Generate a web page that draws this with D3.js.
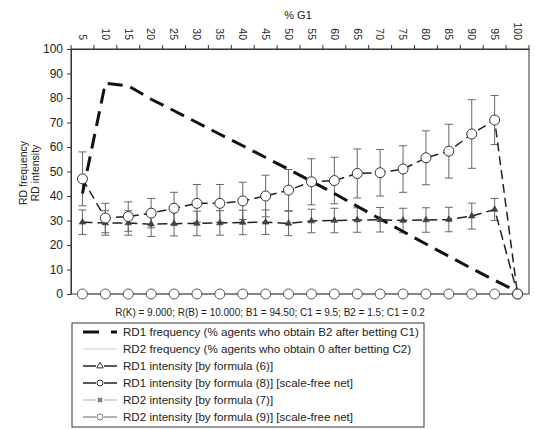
<!DOCTYPE html>
<html><head><meta charset="utf-8">
<script src="https://cdn.jsdelivr.net/npm/d3@7"></script>
<style>
body{margin:0;background:#fff;}
text{font-family:"Liberation Sans",Arial,sans-serif;fill:#222;}
</style></head>
<body><svg id="c" width="535" height="430"></svg>
<script>
const categories = [5,10,15,20,25,30,35,40,45,50,55,60,65,70,75,80,85,90,95,100];
const yTicks = [0,10,20,30,40,50,60,70,80,90,100];
const rd1Freq = [41,86,85,79.5,74.8,70,65.2,60.5,55.7,50.9,46,41,35.8,30.6,25.5,20.4,15.4,10.4,5.6,1];
const rd2Freq = [0,0,0,0,0,0,0,0,0,0,0,0,0,0,0,0,0,0,0,0];
const rd1IntF6 = [29.3,29,29,28.5,28.7,28.8,29,29.2,29.3,28.8,29.8,30,30.2,30.3,30,30.2,30.4,31.8,34.5,0];
const rd1IntF6Err = [5,5,5,5,5,5,5,5,5,5,4.8,5,5,5,5,5,5,5.3,4.5,0];
const rd1IntF8 = [47,31,31.6,33,35,37,37,38,40,42.4,45.8,46.3,49.2,49.5,51,55.6,58.3,65.3,71,0];
const rd1IntF8Err = [11,6,6,6,6.5,7.7,7.7,7.6,8.5,8.4,9.4,9.5,10,9.5,9.5,11,11,14,10,0];
const rd2IntF7 = [0,0,0,0,0,0,0,0,0,0,0,0,0,0,0,0,0,0,0,0];
const rd2IntF9 = [0,0,0,0,0,0,0,0,0,0,0,0,0,0,0,0,0,0,0,0];
const legendLabels = [
 "RD1 frequency (% agents who obtain B2 after betting C1)",
 "RD2 frequency (% agents who obtain 0 after betting C2)",
 "RD1 intensity [by formula (6)]",
 "RD1 intensity [by formula (8)] [scale-free net]",
 "RD2 intensity [by formula (7)]",
 "RD2 intensity [by formula (9)] [scale-free net]"
];
const xTitle = "% G1";
const yTitle = ["RD frequency","RD intensity"];
const note = "R(K) = 9.000; R(B) = 10.000; B1 = 94.50; C1 = 9.5; B2 = 1.5; C1 = 0.2";

const svg = d3.select("#c");
const L=71,R=529,T=49,B=294;
const x = d3.scaleBand().domain(categories).range([L,R]);
const bw = x.bandwidth();
const cx = c => x(c)+bw/2;
const y = d3.scaleLinear().domain([0,100]).range([B,T]);

// frame
svg.append("rect").attr("x",L).attr("y",T).attr("width",R-L).attr("height",B-T)
  .attr("fill","none").attr("stroke","#333").attr("stroke-width",1);

// top axis
const gx = svg.append("g").attr("transform",`translate(0,${T})`)
  .call(d3.axisTop(x).tickSize(0).tickSizeOuter(0));
gx.select(".domain").attr("stroke","#333");
gx.selectAll(".tick text").attr("transform","rotate(90)").attr("x",-9).attr("y",0)
  .attr("dy","0.35em").style("text-anchor","end").style("font-size","10.5px").attr("fill","#222");
// tick marks between categories
svg.append("g").selectAll("line").data(categories.concat(["end"])).join("line")
  .attr("x1",(d,i)=>L+i*bw).attr("x2",(d,i)=>L+i*bw).attr("y1",T).attr("y2",T-4)
  .attr("stroke","#333");
svg.append("text").attr("x",298).attr("y",19).attr("text-anchor","middle")
  .style("font-size","11px").text(xTitle);

// left axis
const gy = svg.append("g").attr("transform",`translate(${L},0)`)
  .call(d3.axisLeft(y).tickValues(yTicks).tickSize(4).tickPadding(4).tickSizeOuter(0));
gy.select(".domain").attr("stroke","#333");
gy.selectAll(".tick line").attr("stroke","#333");
gy.selectAll(".tick text").style("font-size","12px").attr("fill","#222");
yTitle.forEach((t,i)=>{
  svg.append("text").attr("transform",`translate(${27+i*11.5},173) rotate(-90)`)
    .attr("text-anchor","middle").style("font-size","10.5px").text(t);
});

const line = d3.line().x((d,i)=>cx(categories[i])).y(d=>y(d));

// RD2 series (all zero)
svg.append("path").attr("d",line(rd2Freq)).attr("fill","none").attr("stroke","#ccc").attr("stroke-width",1);
svg.append("path").attr("d",line(rd2IntF7)).attr("fill","none").attr("stroke","#aaa").attr("stroke-width",1);
svg.append("path").attr("d",line(rd2IntF9)).attr("fill","none").attr("stroke","#777").attr("stroke-width",1.5);

// error bars
function errBars(vals, errs){
  const g = svg.append("g").attr("stroke","#666").attr("stroke-width",1);
  vals.forEach((v,i)=>{
    if(!errs[i]) return;
    const xc = cx(categories[i]);
    g.append("line").attr("x1",xc).attr("x2",xc).attr("y1",y(v-errs[i])).attr("y2",y(v+errs[i]));
    [v-errs[i],v+errs[i]].forEach(e=>g.append("line").attr("x1",xc-4).attr("x2",xc+4).attr("y1",y(e)).attr("y2",y(e)));
  });
}
errBars(rd1IntF6, rd1IntF6Err);
errBars(rd1IntF8, rd1IntF8Err);

// RD1 intensity (6)
svg.append("path").attr("d",line(rd1IntF6)).attr("fill","none").attr("stroke","#222")
  .attr("stroke-width",1.5).attr("stroke-dasharray","10,5");
// RD1 intensity (8)
svg.append("path").attr("d",line(rd1IntF8)).attr("fill","none").attr("stroke","#222")
  .attr("stroke-width",1.5).attr("stroke-dasharray","9,5");
// RD1 frequency
svg.append("path").attr("d",line(rd1Freq)).attr("fill","none").attr("stroke","#111")
  .attr("stroke-width",3).attr("stroke-dasharray","15,8");

const tri = d3.symbol().type(d3.symbolTriangle).size(18);
// markers
svg.append("g").selectAll("circle").data(rd2IntF9).join("circle")
  .attr("cx",(d,i)=>cx(categories[i])).attr("cy",d=>y(d)).attr("r",5)
  .attr("fill","#fff").attr("stroke","#555").attr("stroke-width",1);
svg.append("g").selectAll("path").data(rd1IntF6).join("path")
  .attr("transform",(d,i)=>`translate(${cx(categories[i])},${y(d)})`).attr("d",tri)
  .attr("fill","#444").attr("stroke","#333").attr("stroke-width",0.6);
svg.append("g").selectAll("circle").data(rd1IntF8).join("circle")
  .attr("cx",(d,i)=>cx(categories[i])).attr("cy",d=>y(d)).attr("r",5)
  .attr("fill","#fff").attr("stroke","#333").attr("stroke-width",1);

// note
svg.append("text").attr("x",270).attr("y",316).attr("text-anchor","middle")
  .style("font-size","10px").text(note);

// legend
const lg = svg.append("g");
lg.append("rect").attr("x",72).attr("y",323).attr("width",352).attr("height",104)
  .attr("fill","#fff").attr("stroke","#333");
const ly = i => 332 + i*17;
legendLabels.forEach((t,i)=>{
  lg.append("text").attr("x",123).attr("y",ly(i)).attr("dy","0.35em").style("font-size","11.6px").text(t);
});
// samples
lg.append("line").attr("x1",83).attr("x2",117).attr("y1",ly(0)).attr("y2",ly(0))
  .attr("stroke","#111").attr("stroke-width",3).attr("stroke-dasharray","16,12");
lg.append("line").attr("x1",83).attr("x2",117).attr("y1",ly(1)).attr("y2",ly(1))
  .attr("stroke","#ccc").attr("stroke-width",1);
[[2,"#222",1.5],[3,"#222",1.5],[4,"#aaa",1],[5,"#999",1.5]].forEach(([i,c,w])=>{
  lg.append("line").attr("x1",83).attr("x2",96).attr("y1",ly(i)).attr("y2",ly(i)).attr("stroke",c).attr("stroke-width",w);
  lg.append("line").attr("x1",104).attr("x2",117).attr("y1",ly(i)).attr("y2",ly(i)).attr("stroke",c).attr("stroke-width",w);
});
lg.append("path").attr("transform",`translate(100,${ly(2)})`).attr("d",d3.symbol().type(d3.symbolTriangle).size(18))
  .attr("fill","#fff").attr("stroke","#333");
lg.append("circle").attr("cx",100).attr("cy",ly(3)).attr("r",3).attr("fill","#fff").attr("stroke","#333");
lg.append("path").attr("d",d3.symbol().type(d3.symbolCross).size(18))
  .attr("transform",`translate(100,${ly(4)}) rotate(45)`).attr("fill","#777");
lg.append("circle").attr("cx",100).attr("cy",ly(5)).attr("r",3).attr("fill","#fff").attr("stroke","#777");
</script></body></html>
